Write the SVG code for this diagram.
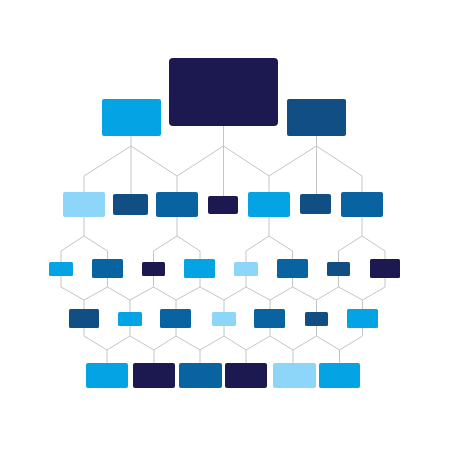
<svg xmlns="http://www.w3.org/2000/svg" width="450" height="450" viewBox="0 0 450 450">
<style>
.c{fill:none;stroke:#c4c4c4;stroke-width:1;stroke-linejoin:round}
.nv{fill:#1c1850}.br{fill:#03a3e4}.lt{fill:#8dd6fa}.dk{fill:#104e84}.md{fill:#0963a1}
</style>
<rect width="450" height="450" fill="#ffffff"/>
<g id="connectors" class="c">
<path d="M131,136V146L84,176V192M131,146V194M131,146L177,176V192"/>
<path d="M223.5,126V146L177,176M223.5,146V196M223.5,146L269,176V192"/>
<path d="M316.5,136V146L269,176M316.5,146V194M316.5,146L362,176V192"/>
<path d="M84,217V236L61,251V262M84,236L107.5,251V259"/>
<path d="M177,217V236L153.5,251V262M177,236L200,251V259"/>
<path d="M269,217V236L246,251V262M269,236L292.5,251V259"/>
<path d="M362,217V236L338.5,251V262M362,236L385,251V259"/>
<path d="M61,276V287L84,300V309"/>
<path d="M107.5,278V287L84,300M107.5,287L130,300V312"/>
<path d="M153.5,276V287L130,300M153.5,287L176,300V309"/>
<path d="M200,278V287L176,300M200,287L224,300V312"/>
<path d="M246,276V287L224,300M246,287L270,300V309"/>
<path d="M292.5,278V287L270,300M292.5,287L316.5,300V312"/>
<path d="M338.5,276V287L316.5,300M338.5,287L362.5,300V309"/>
<path d="M385,278V287L362.5,300"/>
<path d="M84,328V336L107,350V363"/>
<path d="M130,326V336L107,350M130,336L154,350V363"/>
<path d="M176,328V336L154,350M176,336L200,350V363"/>
<path d="M224,326V336L200,350M224,336L246,350V363"/>
<path d="M270,328V336L246,350M270,336L293,350V363"/>
<path d="M316.5,326V336L293,350M316.5,336L339.5,350V363"/>
<path d="M362.5,328V336L339.5,350"/>
</g>
<g id="n0"><rect class="nv" x="169" y="58" width="109" height="68" rx="4"/></g>
<g id="n1a"><rect class="br" x="102" y="99" width="59" height="37" rx="2"/></g>
<g id="n1b"><rect class="dk" x="287" y="99" width="59" height="37" rx="2"/></g>
<g id="n2a"><rect class="lt" x="63" y="192" width="42" height="25" rx="2"/></g>
<g id="n2b"><rect class="dk" x="113" y="194" width="35" height="21" rx="2"/></g>
<g id="n2c"><rect class="md" x="156" y="192" width="42" height="25" rx="2"/></g>
<g id="n2d"><rect class="nv" x="208" y="196" width="30" height="18" rx="2"/></g>
<g id="n2e"><rect class="br" x="248" y="192" width="42" height="25" rx="2"/></g>
<g id="n2f"><rect class="dk" x="300" y="194" width="31" height="20" rx="2"/></g>
<g id="n2g"><rect class="md" x="341" y="192" width="42" height="25" rx="2"/></g>
<g id="n3a"><rect class="br" x="49" y="262" width="24" height="14" rx="1.5"/></g>
<g id="n3b"><rect class="md" x="92" y="259" width="31" height="19" rx="1.5"/></g>
<g id="n3c"><rect class="nv" x="142" y="262" width="23" height="14" rx="1.5"/></g>
<g id="n3d"><rect class="br" x="184" y="259" width="31" height="19" rx="1.5"/></g>
<g id="n3e"><rect class="lt" x="234" y="262" width="24" height="14" rx="1.5"/></g>
<g id="n3f"><rect class="md" x="277" y="259" width="31" height="19" rx="1.5"/></g>
<g id="n3g"><rect class="dk" x="327" y="262" width="23" height="14" rx="1.5"/></g>
<g id="n3h"><rect class="nv" x="370" y="259" width="30" height="19" rx="1.5"/></g>
<g id="n4a"><rect class="dk" x="69" y="309" width="30" height="19" rx="1.5"/></g>
<g id="n4b"><rect class="br" x="118" y="312" width="24" height="14" rx="1.5"/></g>
<g id="n4c"><rect class="md" x="160" y="309" width="31" height="19" rx="1.5"/></g>
<g id="n4d"><rect class="lt" x="212" y="312" width="24" height="14" rx="1.5"/></g>
<g id="n4e"><rect class="md" x="254" y="309" width="31" height="19" rx="1.5"/></g>
<g id="n4f"><rect class="dk" x="305" y="312" width="23" height="14" rx="1.5"/></g>
<g id="n4g"><rect class="br" x="347" y="309" width="31" height="19" rx="1.5"/></g>
<g id="n5a"><rect class="br" x="86" y="363" width="42" height="25" rx="2"/></g>
<g id="n5b"><rect class="nv" x="133" y="363" width="42" height="25" rx="2"/></g>
<g id="n5c"><rect class="md" x="179" y="363" width="43" height="25" rx="2"/></g>
<g id="n5d"><rect class="nv" x="225" y="363" width="42" height="25" rx="2"/></g>
<g id="n5e"><rect class="lt" x="273" y="363" width="43" height="25" rx="2"/></g>
<g id="n5f"><rect class="br" x="319" y="363" width="41" height="25" rx="2"/></g>
</svg>
